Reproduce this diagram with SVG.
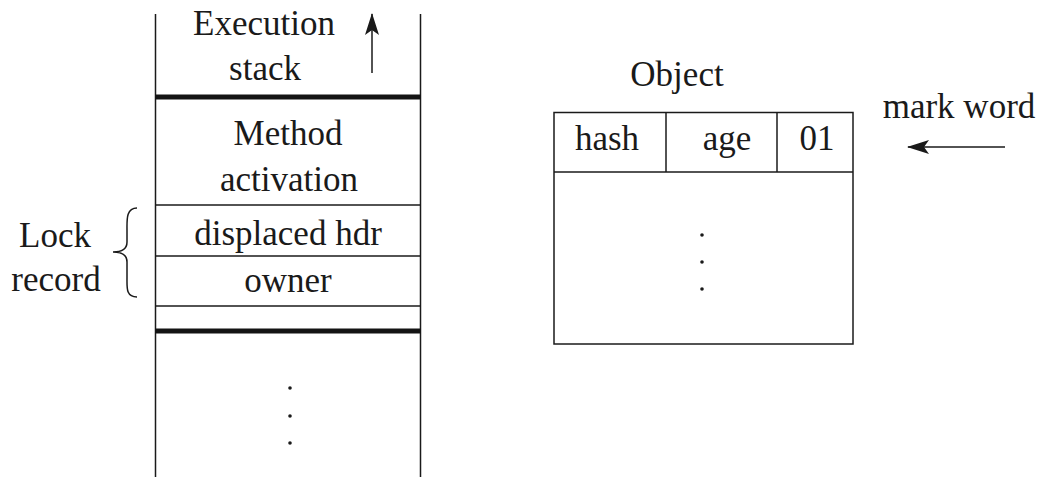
<svg xmlns="http://www.w3.org/2000/svg" width="1051" height="477" viewBox="0 0 1051 477">
<style>
text{font-family:"Liberation Serif","Times New Roman",serif;font-size:35px;fill:#1a1a1a;text-anchor:middle}
.ln{stroke:#1a1a1a;stroke-width:1.5;fill:none}
.thick{stroke:#141414;stroke-width:5;fill:none}
.dot{fill:#1a1a1a}
</style>
<defs>
<marker id="ah2" markerWidth="24" markerHeight="18" refX="21" refY="9" orient="auto" markerUnits="userSpaceOnUse" overflow="visible">
<path d="M0,2 L22,9 L0,16 L5,9 Z" fill="#1a1a1a"/>
</marker>
</defs>
<g id="stack">
<line class="ln" x1="155.5" y1="14" x2="155.5" y2="477"/>
<line class="ln" x1="420.5" y1="14" x2="420.5" y2="477"/>
<line class="thick" x1="155" y1="97" x2="421" y2="97"/>
<line class="ln" x1="155" y1="205" x2="421" y2="205"/>
<line class="ln" x1="155" y1="256" x2="421" y2="256"/>
<line class="ln" x1="155" y1="306" x2="421" y2="306"/>
<line class="thick" x1="155" y1="331" x2="421" y2="331"/>
<text x="264" y="35">Execution</text>
<text x="265" y="80">stack</text>
<text x="288" y="145">Method</text>
<text x="289" y="191">activation</text>
<text x="288" y="245">displaced hdr</text>
<text x="288" y="292">owner</text>
<circle class="dot" cx="290" cy="388" r="1.8"/>
<circle class="dot" cx="290" cy="416" r="1.8"/>
<circle class="dot" cx="290" cy="443" r="1.8"/>
</g>
<g id="lock-record">
<text x="55" y="247">Lock</text>
<text x="56" y="291">record</text>
<path class="ln" d="M137,208 C126,208 127,220 127,230 L127,242 C127,249 122,252 113,252 C122,252 127,255 127,262 L127,278 C127,288 126,297 137,297"/>
</g>
<g id="object">
<text x="677" y="86">Object</text>
<rect class="ln" x="554" y="112.5" width="299" height="231.5"/>
<line class="ln" x1="554" y1="172" x2="853" y2="172"/>
<line class="ln" x1="666" y1="112.5" x2="666" y2="172"/>
<line class="ln" x1="777" y1="112.5" x2="777" y2="172"/>
<text x="607" y="150">hash</text>
<text x="727" y="150">age</text>
<text x="817" y="150">01</text>
<circle class="dot" cx="702" cy="235" r="1.8"/>
<circle class="dot" cx="702" cy="262" r="1.8"/>
<circle class="dot" cx="702" cy="289" r="1.8"/>
</g>
<g id="mark-word">
<text x="959" y="118">mark word</text>
</g>
<g id="connectors">
<line class="ln" x1="372" y1="73" x2="372" y2="14" marker-end="url(#ah2)"/>
<line class="ln" x1="1005" y1="147" x2="908" y2="147" marker-end="url(#ah2)"/>
</g>
</svg>
